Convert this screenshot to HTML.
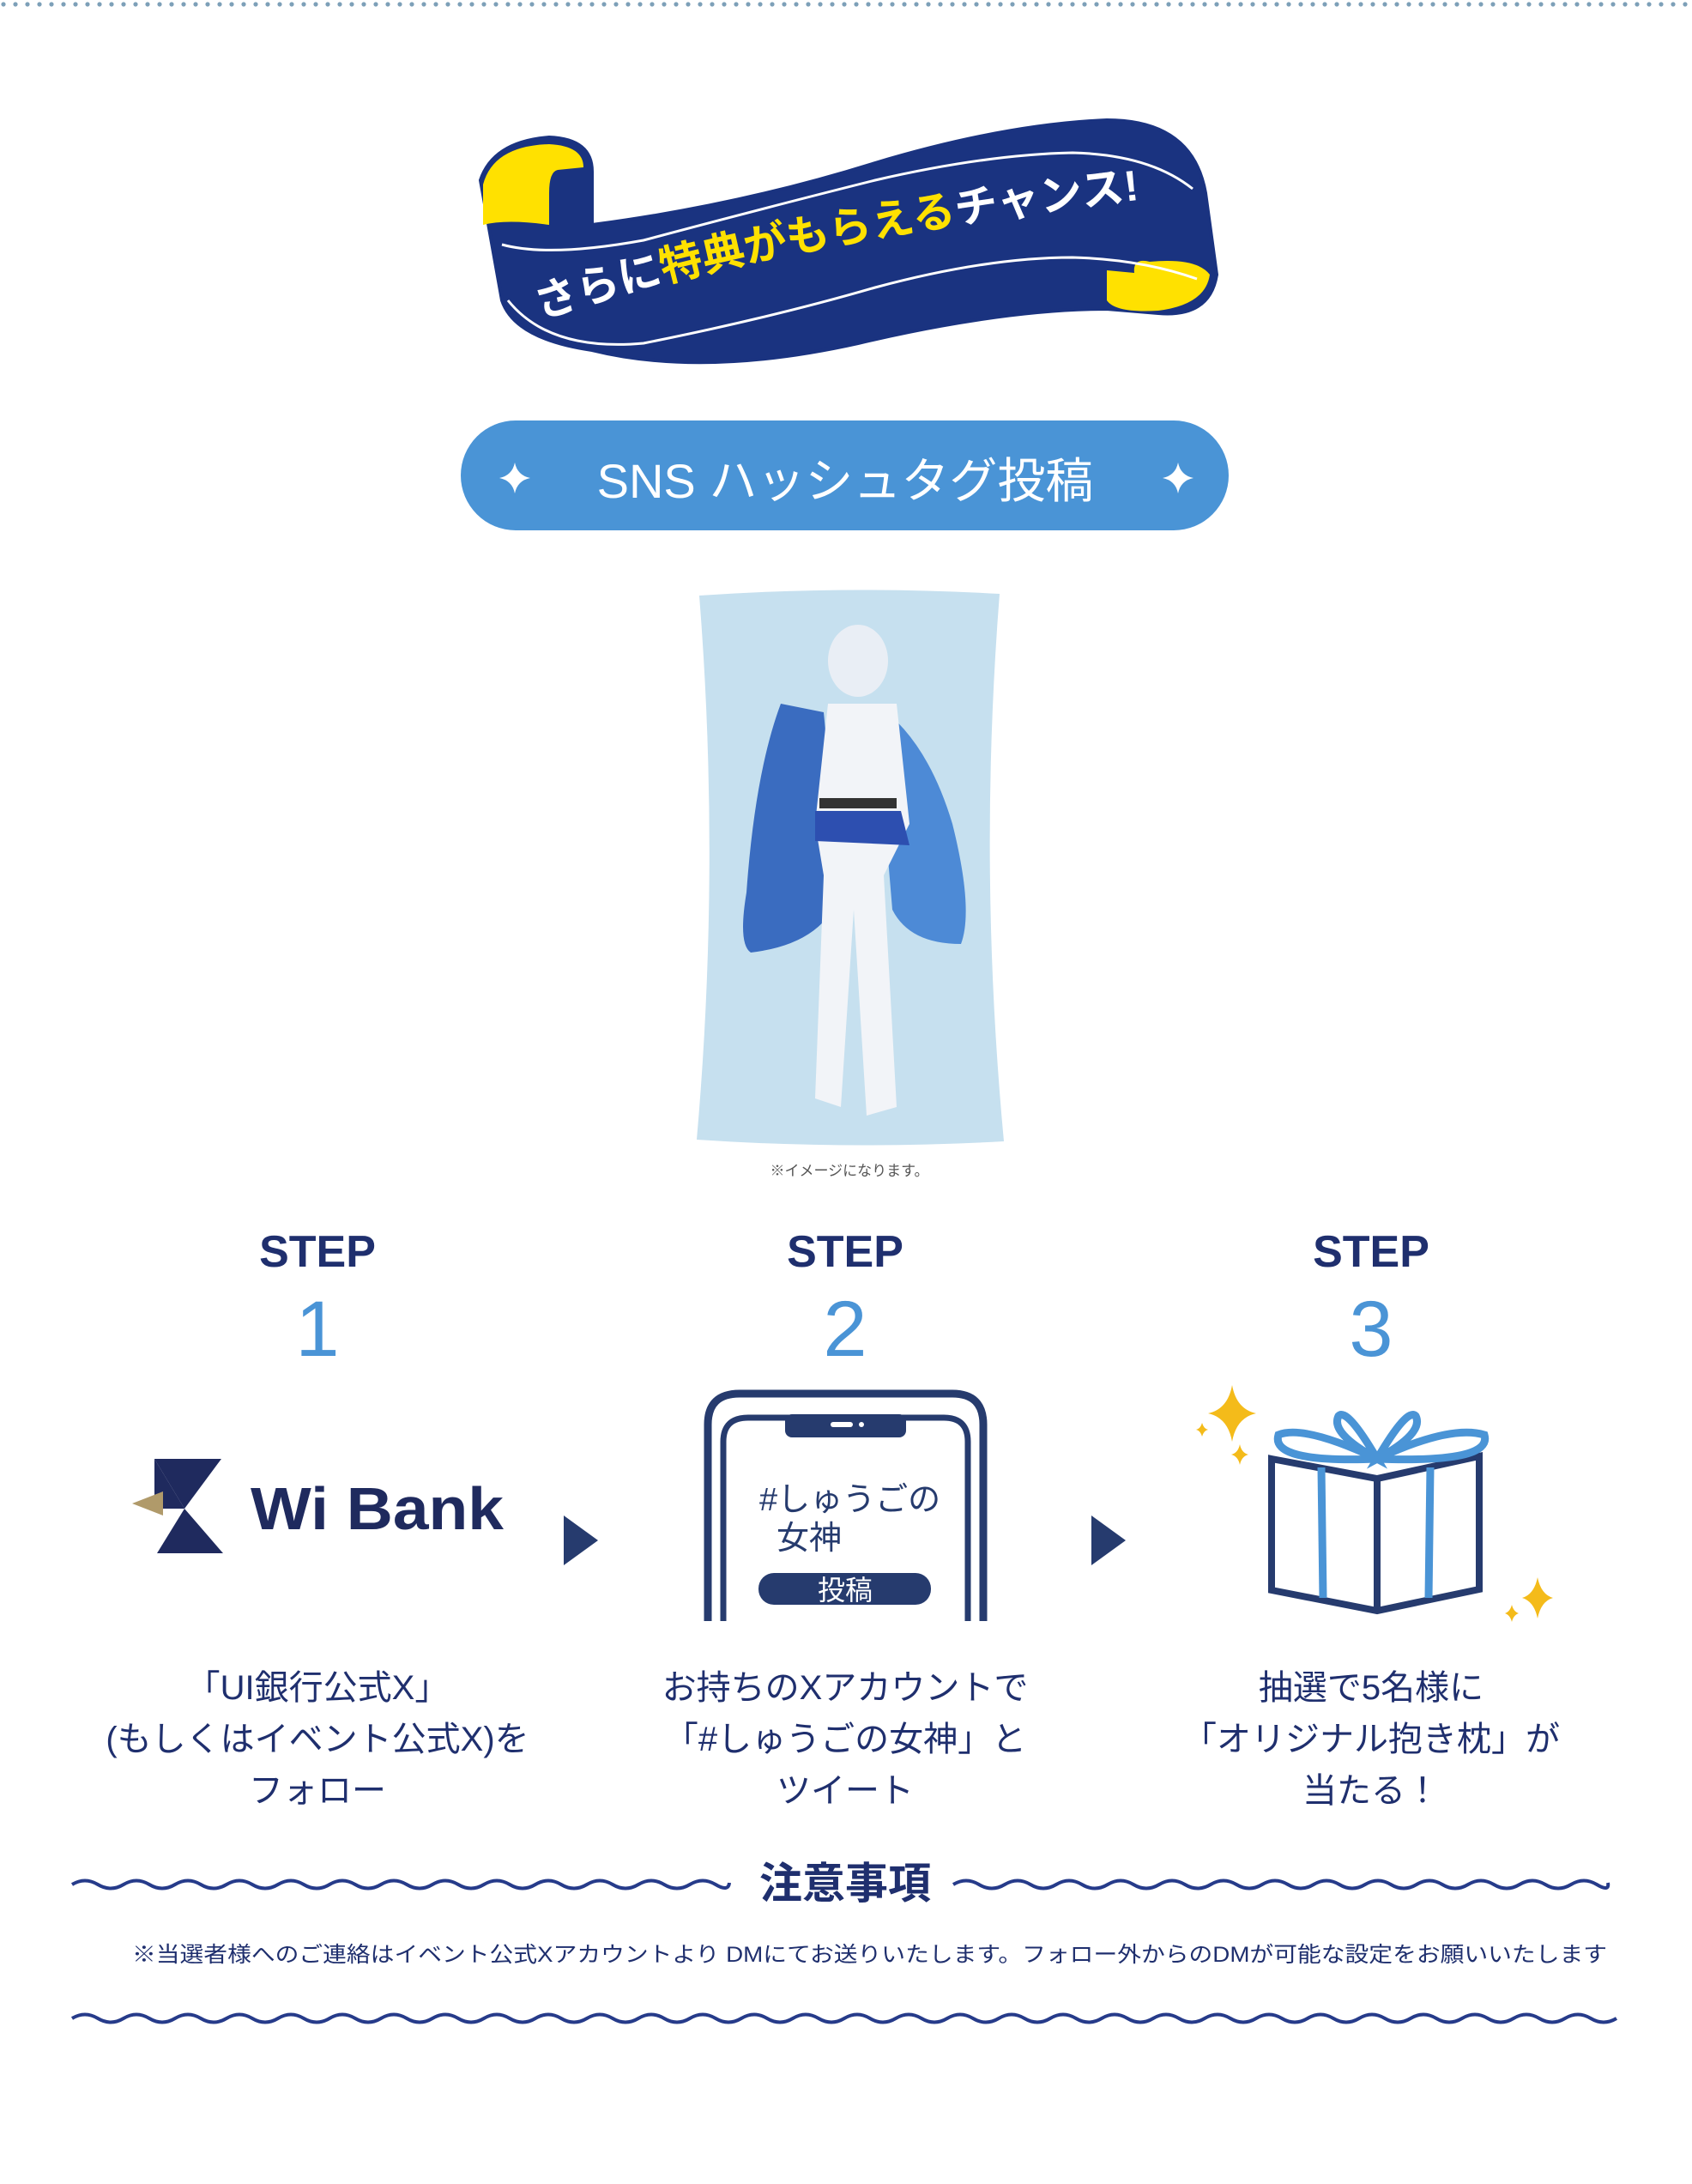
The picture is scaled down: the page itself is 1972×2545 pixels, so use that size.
<!DOCTYPE html>
<html><head><meta charset="utf-8"><style>
html,body{margin:0;padding:0;background:#fff;}
svg{display:block;}
text{font-family:"Liberation Sans","Noto Sans CJK JP",sans-serif;}
</style></head><body>
<svg width="1972" height="2545" viewBox="0 0 1972 2545" xmlns="http://www.w3.org/2000/svg">
<defs>
<pattern id="dots" x="0" y="0" width="14" height="10" patternUnits="userSpaceOnUse"><circle cx="4" cy="5" r="2.6" fill="#7da0b8"/></pattern>
<path id="tp" d="M630,372 Q900,280 1370,228" fill="none"/>
</defs>
<rect x="0" y="0" width="1972" height="10" fill="url(#dots)"/>

<!-- banner -->
<path d="M560,210 Q575,165 640,160 Q690,162 690,200 L690,262 Q860,240 1020,190 Q1170,145 1290,140 Q1390,140 1405,225 L1418,320 Q1410,370 1350,365 L1290,360 Q1170,360 1000,400 Q820,440 690,408 Q600,395 585,350 Z" fill="#1a3380" stroke="#1a3380" stroke-width="4"/>
<path d="M563,215 Q575,170 640,168 Q680,170 680,195 L650,198 Q640,200 640,225 L640,262 Q590,255 563,262 Z" fill="#ffe100"/>
<path d="M1290,315 L1290,350 Q1300,365 1350,362 Q1405,355 1410,320 Q1395,300 1340,305 Q1320,300 1322,318 Z" fill="#ffe100"/>
<path d="M585,285 Q640,300 750,280 Q900,240 1020,210 Q1150,180 1250,178 Q1340,180 1390,220" fill="none" stroke="#fff" stroke-width="3"/>
<path d="M592,350 Q640,410 750,400 Q900,370 1020,335 Q1150,300 1250,300 Q1330,302 1395,325" fill="none" stroke="#fff" stroke-width="3"/>
<text font-size="50" font-weight="bold" fill="#fff"><textPath href="#tp">さらに<tspan fill="#ffe100">特典がもらえる</tspan>チャンス!</textPath></text>

<!-- pill -->
<rect x="537" y="490" width="895" height="128" rx="64" fill="#4a94d6"/>
<text x="985" y="580" font-size="56" fill="#fff" text-anchor="middle">SNS ハッシュタグ投稿</text>
<path d="M600,539 q3,15 18,18 q-15,3 -18,18 q-3,-15 -18,-18 q15,-3 18,-18z" fill="#fff"/>
<path d="M1373,539 q3,15 18,18 q-15,3 -18,18 q-3,-15 -18,-18 q15,-3 18,-18z" fill="#fff"/>

<!-- pillow -->
<path d="M815,694 Q990,682 1165,692 Q1140,1010 1170,1330 Q990,1340 812,1328 Q840,1010 815,694Z" fill="#c6e0ef"/>
<path d="M910,820 Q880,900 870,1040 Q860,1100 875,1110 Q960,1100 980,1040 L960,830Z" fill="#3a6cc0"/>
<path d="M1020,820 Q1080,860 1110,960 Q1135,1060 1120,1100 Q1060,1100 1040,1060Z" fill="#4d8ad6"/>
<ellipse cx="1000" cy="770" rx="35" ry="42" fill="#e9eef5"/>
<path d="M965,820 L1045,820 L1060,960 L1030,1020 L1045,1290 L1010,1300 L995,1060 L980,1290 L950,1280 L960,1020 L950,960Z" fill="#f2f4f8"/>
<rect x="955" y="930" width="90" height="12" fill="#333"/>
<path d="M950,945 L1050,945 L1060,985 L950,980Z" fill="#2d4fb0"/>
<text x="990" y="1370" font-size="17" fill="#555" text-anchor="middle">※イメージになります。</text>

<!-- steps -->
<g font-size="52" font-weight="bold" fill="#1f2f6e" text-anchor="middle">
<text x="370" y="1476">STEP</text><text x="985" y="1476">STEP</text><text x="1598" y="1476">STEP</text>
</g>
<g font-size="92" fill="#4a94d6" text-anchor="middle">
<text x="370" y="1580">1</text><text x="985" y="1580">2</text><text x="1598" y="1580">3</text>
</g>

<!-- wi bank logo -->
<path d="M180,1700 L258,1700 L215,1758Z" fill="#1f2a5e"/>
<path d="M183,1810 L260,1810 L215,1758Z" fill="#1f2a5e"/>
<path d="M180,1700 L180,1758 L215,1758Z" fill="#1f2a5e"/>
<path d="M154,1752 L190,1738 L190,1766Z" fill="#b09a6a"/>
<text x="292" y="1782" font-size="70" font-weight="bold" fill="#1f2a5e" textLength="295" lengthAdjust="spacingAndGlyphs">Wi Bank</text>

<path d="M657,1766 L697,1795 L657,1824Z" fill="#263b6e"/>
<path d="M1272,1766 L1312,1795 L1272,1824Z" fill="#263b6e"/>

<!-- phone -->
<path d="M825,1889 L825,1660 Q825,1624 862,1624 L1110,1624 Q1146,1624 1146,1660 L1146,1889" fill="none" stroke="#263b6e" stroke-width="9"/>
<path d="M843,1889 L843,1680 Q843,1652 872,1652 L1100,1652 Q1128,1652 1128,1680 L1128,1889" fill="none" stroke="#263b6e" stroke-width="7"/>
<rect x="915" y="1648" width="141" height="27" rx="8" fill="#263b6e"/>
<rect x="968" y="1657" width="26" height="6" rx="3" fill="#fff"/><circle cx="1004" cy="1660" r="3" fill="#fff"/>
<text x="885" y="1760" font-size="38" fill="#263b6e">#しゅうごの</text>
<text x="905" y="1805" font-size="38" fill="#263b6e">女神</text>
<rect x="884" y="1833" width="201" height="37" rx="18" fill="#263b6e"/>
<text x="985" y="1864" font-size="32" fill="#fff" text-anchor="middle">投稿</text>

<!-- gift -->
<path d="M1482,1700 L1605,1723 L1724,1697 L1724,1852 L1605,1877 L1482,1853Z" fill="#fff" stroke="#263b6e" stroke-width="8"/>
<line x1="1605" y1="1723" x2="1605" y2="1877" stroke="#263b6e" stroke-width="8"/>
<g stroke="#4a94d6" stroke-width="9" fill="none">
<line x1="1540" y1="1710" x2="1542" y2="1862"/><line x1="1667" y1="1710" x2="1665" y2="1862"/>
<path d="M1605,1700 Q1520,1660 1490,1672 Q1480,1705 1605,1700Z"/>
<path d="M1605,1700 Q1570,1640 1560,1650 Q1550,1670 1605,1700Z"/>
<path d="M1605,1700 Q1690,1660 1730,1672 Q1740,1705 1605,1700Z"/>
<path d="M1605,1700 Q1640,1640 1650,1650 Q1660,1670 1605,1700Z"/>
</g>
<g fill="#f4bb1a">
<path d="M1436,1614 q5,28 28,33 q-23,5 -28,33 q-5,-28 -28,-33 q23,-5 28,-33z"/>
<path d="M1445,1683 q2,10 10,12 q-8,2 -10,12 q-2,-10 -10,-12 q8,-2 10,-12z"/>
<path d="M1401,1658 q2,7 7,8 q-5,1 -7,8 q-2,-7 -7,-8 q5,-1 7,-8z"/>
<path d="M1792,1838 q4,20 18,24 q-14,4 -18,24 q-4,-20 -18,-24 q14,-4 18,-24z"/>
<path d="M1762,1870 q2,8 8,10 q-6,2 -8,10 q-2,-8 -8,-10 q6,-2 8,-10z"/>
</g>

<g font-size="40" fill="#1f2f6e" text-anchor="middle">
<text x="370" y="1980">「UI銀行公式X」</text>
<text x="370" y="2040">(もしくはイベント公式X)を</text>
<text x="370" y="2100">フォロー</text>
<text x="985" y="1980">お持ちのXアカウントで</text>
<text x="985" y="2040">「#しゅうごの女神」と</text>
<text x="985" y="2100">ツイート</text>
<text x="1598" y="1980">抽選で5名様に</text>
<text x="1598" y="2040">「オリジナル抱き枕」が</text>
<text x="1598" y="2100">当たる！</text>
</g>

<!-- notes -->
<text x="985" y="2212" font-size="50" font-weight="bold" fill="#1f2f6e" text-anchor="middle">注意事項</text>
<g stroke="#263b8a" stroke-width="4" fill="none">
<path d="M84,2196 q15,-9 30,0 t30,0 t30,0 t30,0 t30,0 t30,0 t30,0 t30,0 t30,0 t30,0 t30,0 t30,0 t30,0 t30,0 t30,0 t30,0 t30,0 t30,0 t30,0 t30,0 t30,0 t30,0 t30,0 t30,0 t30,0 t16,-2"/>
<path d="M1111,2196 q15,-9 30,0 t30,0 t30,0 t30,0 t30,0 t30,0 t30,0 t30,0 t30,0 t30,0 t30,0 t30,0 t30,0 t30,0 t30,0 t30,0 t30,0 t30,0 t30,0 t30,0 t30,0 t30,0 t30,0 t30,0 t30,0 t13,-2"/>
<path d="M84,2352 q15,-9 30,0 t30,0 t30,0 t30,0 t30,0 t30,0 t30,0 t30,0 t30,0 t30,0 t30,0 t30,0 t30,0 t30,0 t30,0 t30,0 t30,0 t30,0 t30,0 t30,0 t30,0 t30,0 t30,0 t30,0 t30,0 t30,0 t30,0 t30,0 t30,0 t30,0 t30,0 t30,0 t30,0 t30,0 t30,0 t30,0 t30,0 t30,0 t30,0 t30,0 t30,0 t30,0 t30,0 t30,0 t30,0 t30,0 t30,0 t30,0 t30,0 t30,0 t30,0 t30,0 t30,0 t30,0 t30,0 t30,0 t30,0 t30,0 t30,0 t30,0"/>
</g>
<text x="154" y="2286" font-size="25" fill="#1f2f6e" textLength="1719" lengthAdjust="spacingAndGlyphs">※当選者様へのご連絡はイベント公式Xアカウントより DMにてお送りいたします。フォロー外からのDMが可能な設定をお願いいたします</text>
</svg>
</body></html>
